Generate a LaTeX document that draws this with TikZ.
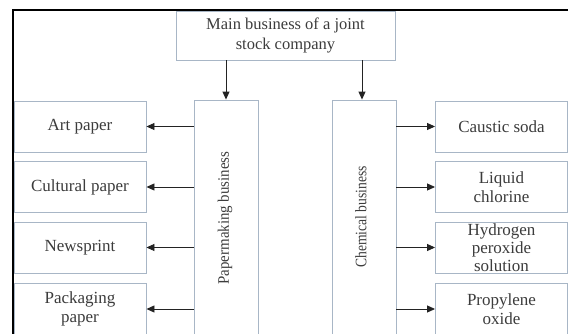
\documentclass[tikz,border=0pt]{standalone}
\usepackage{fontspec}
\setmainfont{Liberation Serif}
\usetikzlibrary{arrows.meta}
\definecolor{boxline}{RGB}{168,182,198}
\definecolor{txt}{RGB}{60,60,60}
\definecolor{arr}{RGB}{35,35,35}
\tikzset{
  box/.style={draw=boxline, line width=0.9pt, fill=white, rectangle, align=center, inner sep=0pt,
    text=txt, font=\fontsize{17}{19}\selectfont},
  side/.style={box, minimum width=132pt, minimum height=51pt},
  vbox/.style={box, minimum width=64pt, minimum height=240pt},
  conn/.style={draw=arr, line width=0.9pt, -{Triangle[length=8pt,width=7pt]}},
  vlabel/.style={rotate=90, text=txt, font=\fontsize{16}{18}\selectfont, inner sep=0pt}
}
\begin{document}
\begin{tikzpicture}[x=1pt,y=-1pt]
\useasboundingbox (0,0) rectangle (568,333);
\clip (0,0) rectangle (568,333);
\fill[white] (0,0) rectangle (568,333);
% outer frame
\draw[black, line width=2pt] (13,340) -- (13,9.5) -- (575,9.5);
% top box
\node[box, minimum width=219pt, minimum height=49pt, font=\fontsize{16.5}{20}\selectfont] (top) at (285.5,35.5) {Main business of a joint\\stock company};
% business boxes
\node[vbox] (paper) at (226,220) {};
\node[vbox] (chem) at (364,220) {};
\node[vlabel] (paperlbl) at (225,218) {\scalebox{0.93}[1]{Papermaking business}};
\node[vlabel] (chemlbl) at (361,217) {\scalebox{0.85}[1]{Chemical business}};
% left products
\node[side] (art) at (80,126.5) {Art paper};
\node[side] (cult) at (80,187) {Cultural paper};
\node[side] (news) at (80,247.5) {Newsprint};
\node[side] (pack) at (80,309) {Packaging\\paper};
% right products
\node[side] (caustic) at (501.5,126.5) {Caustic soda};
\node[side] (chlor) at (501.5,187) {Liquid\\chlorine};
\node[side, font=\fontsize{17}{18}\selectfont] (hydro) at (501.5,247.5) {Hydrogen\\peroxide\\solution};
\node[side] (prop) at (501.5,309) {Propylene\\oxide};
% connectors
\draw[conn] (top.south -| paper) -- (paper.north);
\draw[conn] ([xshift=-2pt]top.south -| chem) -- ([xshift=-2pt]chem.north);
\foreach \n in {art,cult,news,pack}{
  \draw[conn] (\n.east -| paper.west) -- (\n.east);
}
\foreach \n in {caustic,chlor,hydro,prop}{
  \draw[conn] (\n.west -| chem.east) -- (\n.west);
}
\end{tikzpicture}
\end{document}
